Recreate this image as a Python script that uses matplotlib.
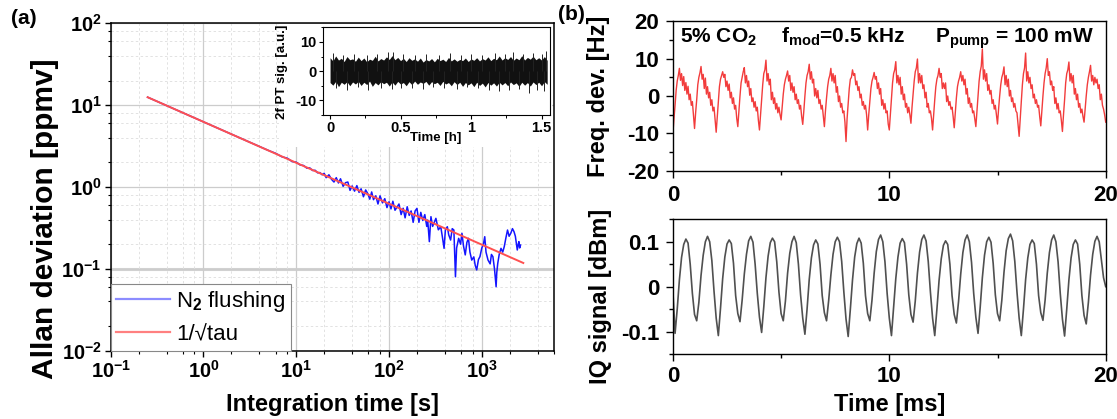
import numpy as np
import matplotlib
matplotlib.use('Agg')
import matplotlib.pyplot as plt
from matplotlib.patches import Rectangle
from matplotlib.ticker import LogLocator, MultipleLocator, NullFormatter

plt.rcParams['font.family'] = ['Liberation Sans', 'DejaVu Sans']
plt.rcParams['font.weight'] = 'bold'
plt.rcParams['mathtext.fontset'] = 'custom'
plt.rcParams['mathtext.rm'] = 'Liberation Sans:bold'
plt.rcParams['mathtext.bf'] = 'Liberation Sans:bold'
plt.rcParams['mathtext.it'] = 'Liberation Sans:bold:italic'
plt.rcParams['mathtext.sf'] = 'Liberation Sans'
plt.rcParams['mathtext.default'] = 'rm'
plt.rcParams['axes.unicode_minus'] = False

# ---- (a) Allan deviation, N2 flushing ----
tau_n2 = [0.25, 0.5, 1.0, 2.0, 3.0, 4.0, 5.0, 6.0, 7.0, 8.0, 9.0, 10, 11, 12, 13, 14,
          15, 16, 17, 18, 19,
          20, 21, 22.5, 24, 25.5, 27, 28.5, 30, 32, 34, 36, 38, 40, 42.5, 45, 47.5,
          50, 53, 56, 59, 62, 65, 68, 72, 76, 80, 85, 90, 95,
          100, 105, 110, 116, 122, 128, 135, 142, 149, 157, 165, 173, 182, 191, 200,
          210, 220, 231, 243, 255, 261, 272, 283, 295,
          320, 340, 361, 375, 392, 405, 425, 440, 461, 480,
          500, 510, 520, 535, 563, 590, 611, 635, 663, 690, 718, 745, 779, 820, 850,
          881, 920, 955, 1000, 1040, 1076, 1110, 1167, 1230, 1270, 1317, 1370, 1426,
          1450, 1486, 1540, 1610, 1680, 1746, 1820, 1893, 1970, 2052, 2140, 2225,
          2300, 2412, 2470, 2512, 2560, 2615]
adev_n2 = [12.5, 8.85, 6.25, 4.42, 3.60, 3.13, 2.80, 2.58, 2.34, 2.25, 2.05, 2.01, 1.86,
           1.83, 1.70, 1.71, 1.59, 1.60, 1.49, 1.50, 1.41,
           1.47, 1.30, 1.41, 1.24, 1.15, 1.30, 1.12, 1.26, 1.02, 1.13, 1.15, 0.91, 1.03,
           0.89, 1.04, 0.86,
           0.95, 0.76, 0.92, 0.83, 0.71, 0.87, 0.70, 0.78, 0.62, 0.78, 0.64, 0.72, 0.56,
           0.66, 0.54, 0.67, 0.52, 0.57, 0.62, 0.46, 0.55, 0.42, 0.574, 0.45, 0.51,
           0.37, 0.51, 0.548, 0.37, 0.49, 0.39, 0.46, 0.33, 0.395, 0.215, 0.434, 0.33,
           0.414, 0.30, 0.327, 0.25, 0.178, 0.30, 0.327, 0.26, 0.225, 0.31,
           0.298, 0.16, 0.080, 0.18, 0.236, 0.20, 0.272, 0.19, 0.148, 0.21, 0.236, 0.16,
           0.128, 0.14, 0.11, 0.097, 0.13, 0.141, 0.18, 0.20, 0.247, 0.16, 0.128, 0.115,
           0.15, 0.141, 0.10, 0.0605, 0.09, 0.117, 0.15, 0.178, 0.16, 0.187, 0.24, 0.298,
           0.25, 0.272, 0.31, 0.284, 0.25, 0.170, 0.20, 0.215, 0.18, 0.195]
tau_fit = [0.25, 2800]
adev_fit = [12.5, 0.118]

# ---- inset: 2f PT signal over 1.55 h ----
band_hi = [4.6, 3.5, 5.2, 3.8, 4.4, 3.3, 5.0, 3.9, 4.2, 3.4,
           4.8, 3.6, 4.5, 3.2, 4.1, 3.7, 5.1, 3.5, 4.3, 3.8,
           4.9, 4.0, 5.3, 3.9, 4.7, 3.6, 4.4, 3.3, 4.6, 3.7,
           4.2, 3.4, 4.5, 3.1, 4.0, 3.5, 4.3, 3.2, 4.4, 3.6,
           4.1, 3.3, 4.7, 3.5, 4.2, 3.4, 4.0, 3.6, 4.5, 3.3,
           4.2, 3.7, 4.6, 3.5, 4.3, 3.8, 4.9, 3.6, 4.4, 3.9,
           5.2, 3.8, 4.6, 4.0, 5.0, 3.7, 4.5, 3.9, 5.3, 3.8,
           4.7, 4.1, 5.1, 3.9, 4.6, 3.8, 5.0, 3.7]
band_lo = [-3.9, -4.8, -3.5, -5.3, -3.8, -4.5, -3.6, -5.0, -3.7, -4.4,
           -3.5, -4.9, -3.8, -4.6, -3.4, -5.2, -3.9, -4.7, -3.6, -4.3,
           -3.8, -5.1, -3.7, -4.8, -3.5, -4.4, -3.9, -5.0, -3.6, -4.6,
           -3.4, -4.5, -3.7, -4.2, -3.5, -4.8, -3.6, -4.3, -3.8, -4.9,
           -3.5, -4.4, -3.9, -5.0, -3.6, -4.6, -3.8, -5.2, -3.9, -4.7,
           -4.0, -5.3, -3.8, -4.9, -4.1, -5.4, -3.9, -4.8, -4.0, -5.1,
           -3.8, -4.7, -3.9, -5.0, -3.7, -4.6, -4.0, -5.2, -3.8, -4.8,
           -3.9, -5.1, -3.7, -4.6, -3.8, -5.0, -3.6, -4.5]
spk_up_t = [0.02, 0.09, 0.17, 0.26, 0.33, 0.41, 0.45, 0.52, 0.6, 0.68, 0.77, 0.85, 0.93,
            1.0, 1.08, 1.17, 1.24, 1.3, 1.37, 1.44, 1.5, 1.53]
spk_up_v = [6.2, 5.6, 5.9, 5.5, 6.0, 6.4, 6.6, 5.7, 5.4, 5.8, 5.5, 6.1, 5.6, 5.9, 5.4,
            6.3, 5.8, 6.7, 6.0, 6.2, 5.7, 6.8]
spk_dn_t = [0.04, 0.12, 0.2, 0.27, 0.36, 0.44, 0.5, 0.58, 0.66, 0.73, 0.81, 0.9, 0.97,
            1.05, 1.13, 1.2, 1.27, 1.34, 1.41, 1.47, 1.52]
spk_dn_v = [-5.8, -6.3, -5.5, -6.6, -5.9, -6.1, -5.6, -5.7, -6.0, -5.4, -5.9, -6.2, -5.5,
            -5.8, -6.4, -6.9, -6.6, -6.0, -7.5, -6.3, -6.8]

# ---- (b) frequency deviation, 0.05 ms steps (one row per modulation period) ----
freq_dev = [
    -10, -6, -2.5, 1.5, 4.0, 5.5, 7.4, 4.2, 6.0, 2.8, 5.2, 1.5, 3.6, 0.5, 2.6, -1.0, 0.5, -2.5, -1.5, -5.0,
    -8.7, -4.5, -1.0, 3.0, 5.0, 6.2, 7.9, 4.5, 5.8, 2.0, 4.8, 0.5, 2.5, -0.5, 1.0, -2.5, -1.0, -4.0, -3.0, -6.5,
    -9.7, -5.5, -1.5, 2.5, 4.5, 5.5, 6.5, 5.0, 5.8, 2.5, 4.0, 1.5, 3.2, -0.5, 1.0, -2.0, -0.5, -3.5, -2.5, -6.0,
    -8.2, -4.0, 0.0, 3.5, 5.0, 6.5, 7.6, 3.5, 5.5, 2.5, 4.0, 0.2, 2.0, -1.5, -0.5, -3.0, -1.5, -4.0, -3.0, -6.5,
    -9.1, -5.0, -1.0, 3.0, 6.0, 7.0, 9.6, 4.0, 6.0, 3.0, 4.5, -1.0, 1.0, -2.0, -0.5, -3.5, -2.0, -4.5, -3.0, -5.0,
    -6.4, -3.0, 0.5, 3.0, 4.5, 5.5, 6.7, 4.0, 5.5, 1.5, 3.5, 1.0, 2.5, -1.0, 0.5, -2.0, -1.0, -3.5, -2.5, -5.5,
    -7.6, -4.0, 0.0, 3.5, 5.5, 6.5, 8.5, 4.5, 6.5, 3.5, 4.5, 0.0, 2.0, -0.5, 1.5, -2.0, -1.0, -3.5, -2.5, -5.5,
    -8.2, -4.0, -0.5, 2.5, 4.5, 5.5, 7.4, 4.0, 6.0, 3.5, 5.5, 1.0, 2.5, -1.5, 0.0, -3.0, -2.0, -4.5, -4.0, -7.0,
    -12.2, -6.0, -2.0, 2.0, 4.5, 5.0, 7.0, 5.5, 6.0, 3.0, 4.0, 1.5, 2.5, -0.5, 0.5, -2.5, -1.5, -3.5, -2.5, -5.0,
    -9.1, -5.0, -1.5, 2.0, 4.0, 5.0, 6.3, 4.5, 5.2, 2.0, 3.5, 0.5, 2.0, -2.5, -1.0, -3.5, -2.0, -4.5, -4.0, -7.5,
    -9.1, -5.0, -1.0, 3.5, 6.0, 7.0, 9.2, 3.5, 5.5, 3.0, 5.0, 0.5, 2.5, -1.0, 0.5, -3.0, -2.0, -4.5, -3.0, -5.0,
    -7.3, -3.0, 0.5, 4.0, 6.5, 7.5, 9.9, 3.5, 6.0, 3.5, 5.5, 2.0, 3.0, -0.5, 1.0, -3.0, -2.0, -4.5, -4.0, -6.0,
    -9.1, -5.0, -1.0, 2.5, 4.5, 5.5, 7.4, 5.0, 6.0, 2.0, 3.5, 2.0, 3.5, -1.5, 0.0, -2.5, -1.5, -3.5, -3.0, -5.5,
    -8.5, -4.5, -0.5, 2.5, 4.0, 5.0, 6.5, 4.0, 5.5, 3.0, 4.5, 0.5, 2.0, -2.0, -0.5, -3.0, -2.0, -4.5, -4.0, -6.0,
    -8.2, -4.0, 0.5, 4.0, 6.5, 8.0, 12.6, 4.5, 7.0, 4.0, 6.0, 1.5, 3.0, 0.5, 1.5, -2.0, -1.0, -3.5, -2.5, -5.0,
    -7.5, -3.5, 0.0, 3.0, 5.0, 6.0, 7.8, 3.0, 5.5, 2.5, 4.5, 0.0, 1.5, -1.5, -0.5, -3.0, -2.0, -4.0, -4.5, -7.5,
    -10.8, -6.0, -1.5, 3.0, 6.0, 7.5, 11.5, 4.0, 6.5, 3.5, 5.0, 2.0, 3.0, -0.5, 0.5, -2.0, -1.0, -3.0, -2.5, -5.5,
    -8.0, -4.0, 0.0, 3.5, 6.0, 7.5, 10.0, 5.5, 6.5, 3.0, 4.0, 1.5, 2.5, -2.0, -0.5, -3.5, -2.0, -4.5, -4.0, -6.5,
    -9.5, -5.0, -1.0, 3.5, 6.0, 7.0, 9.1, 4.0, 6.0, 3.5, 5.5, 0.5, 2.0, -1.0, 0.5, -3.0, -2.0, -4.5, -3.5, -5.5,
    -7.0, -3.5, 0.0, 3.0, 5.0, 6.5, 8.2, 4.0, 5.5, 3.0, 5.0, 3.5, 4.5, 2.0, 3.0, -1.0, 0.5, -2.5, -3.5, -5.0,
    -7.0]

# ---- (b) IQ signal, 0.1 ms steps ----
iq_sig = [
    -0.01, -0.104, -0.05, 0.015, 0.065, 0.094, 0.106, 0.097, 0.05, -0.015,
    -0.062, -0.076, -0.035, 0.025, 0.07, 0.1, 0.112, 0.1, 0.058, -0.01,
    -0.07, -0.109, -0.048, 0.018, 0.066, 0.095, 0.104, 0.096, 0.052, -0.02,
    -0.06, -0.078, -0.03, 0.028, 0.072, 0.102, 0.112, 0.099, 0.05, -0.015,
    -0.068, -0.102, -0.045, 0.02, 0.068, 0.098, 0.108, 0.1, 0.055, -0.012,
    -0.06, -0.076, -0.032, 0.03, 0.074, 0.1, 0.112, 0.098, 0.05, -0.018,
    -0.07, -0.106, -0.05, 0.016, 0.064, 0.093, 0.104, 0.095, 0.05, -0.02,
    -0.058, -0.076, -0.03, 0.026, 0.072, 0.1, 0.110, 0.1, 0.056, -0.012,
    -0.072, -0.111, -0.05, 0.015, 0.066, 0.096, 0.108, 0.097, 0.052, -0.02,
    -0.06, -0.076, -0.03, 0.03, 0.078, 0.105, 0.115, 0.1, 0.055, -0.015,
    -0.07, -0.109, -0.047, 0.018, 0.066, 0.097, 0.107, 0.098, 0.05, -0.018,
    -0.062, -0.079, -0.032, 0.03, 0.077, 0.105, 0.115, 0.102, 0.056, -0.012,
    -0.07, -0.109, -0.05, 0.014, 0.062, 0.092, 0.102, 0.094, 0.05, -0.02,
    -0.062, -0.081, -0.033, 0.028, 0.076, 0.104, 0.115, 0.1, 0.054, -0.015,
    -0.068, -0.104, -0.046, 0.02, 0.07, 0.1, 0.110, 0.099, 0.052, -0.018,
    -0.06, -0.076, -0.03, 0.032, 0.08, 0.107, 0.117, 0.102, 0.056, -0.012,
    -0.07, -0.109, -0.05, 0.016, 0.064, 0.094, 0.104, 0.096, 0.05, -0.02,
    -0.058, -0.075, -0.03, 0.03, 0.076, 0.104, 0.115, 0.1, 0.055, -0.015,
    -0.072, -0.110, -0.05, 0.015, 0.064, 0.094, 0.104, 0.095, 0.05, -0.02,
    -0.064, -0.083, -0.035, 0.026, 0.072, 0.101, 0.112, 0.1, 0.06, 0.02,
    0.0]

W, H = 1117, 419


def box(l, t, r, b):
    # pixel box (top-left origin) -> figure fraction
    return [l / W, 1 - b / H, (r - l) / W, (b - t) / H]


def px(x, y):
    return x / W, 1 - y / H


fig = plt.figure(figsize=(W / 100, H / 100), dpi=100)

# ---------------- panel (a) ----------------
ax = fig.add_axes(box(110.7, 23.3, 554, 350.7))
ax.loglog(tau_n2, adev_n2, color='#1414ff', lw=1.1, label=r'N$_\mathsf{2}$ flushing')
ax.loglog(tau_fit, adev_fit, color='#ff5050', lw=1.4, label='1/\u221atau', zorder=3)
ax.set_xlim(0.1, 6000)
ax.set_ylim(0.01, 100)
ax.set_xticks([0.1, 1, 10, 100, 1000],
              [r'$10^{-1}$', r'$10^{0}$', r'$10^{1}$', r'$10^{2}$', r'$10^{3}$'])
ax.set_yticks([0.01, 0.1, 1, 10, 100],
              [r'$10^{-2}$', r'$10^{-1}$', r'$10^{0}$', r'$10^{1}$', r'$10^{2}$'])
ax.xaxis.set_minor_locator(LogLocator(base=10, subs=(2, 4, 6, 8), numticks=20))
ax.yaxis.set_minor_locator(LogLocator(base=10, subs=(2, 4, 6, 8), numticks=20))
ax.xaxis.set_minor_formatter(NullFormatter())
ax.yaxis.set_minor_formatter(NullFormatter())
ax.grid(which='major', color='#cccccc', lw=0.9)
ax.grid(which='minor', color='#e2e2e2', lw=0.7, ls=(0, (2.5, 2.5)))
ax.axhline(0.1, color='#d2d2d2', lw=2.2, zorder=0.8)
ax.tick_params(which='major', direction='out', length=4.5, width=1, labelsize=14.5, pad=2)
ax.tick_params(which='minor', direction='out', length=2.5, width=0.8)
for s in ax.spines.values():
    s.set_linewidth(1.1)

leg = ax.legend(loc='lower left', bbox_to_anchor=(0, 0), borderaxespad=0,
                prop={'weight': 'normal', 'size': 16}, handlelength=2.4,
                handletextpad=0.3, labelspacing=0.45, borderpad=0.25,
                fancybox=False, edgecolor='#888888', framealpha=1)
leg.get_frame().set_linewidth(0.8)
leg.get_lines()[0].set_color('#8c8cff')
leg.get_lines()[1].set_color('#ff8080')
for ln in leg.get_lines():
    ln.set_linewidth(1.6)

# white patch behind the inset
fig.add_artist(Rectangle((279 / W, 1 - 147 / H), (552 - 279) / W, (147 - 24.5) / H,
                         transform=fig.transFigure, facecolor='white',
                         edgecolor='none', zorder=1))

# ---------------- inset ----------------
ins = fig.add_axes(box(323, 27.3, 550, 115))
ins.set_zorder(2)
t_band = np.linspace(0, 1.54, len(band_hi))
ins.fill_between(t_band, band_lo, band_hi, color='#111111', lw=0)
ins.vlines(spk_up_t, 0, spk_up_v, color='#222222', lw=0.7)
ins.vlines(spk_dn_t, spk_dn_v, 0, color='#222222', lw=0.7)
ins.set_xlim(-0.05, 1.56)
ins.set_ylim(-15, 15)
ins.set_xticks([0, 0.5, 1, 1.5], ['0', '0.5', '1', '1.5'])
ins.set_yticks([-10, 0, 10])
ins.xaxis.set_minor_locator(MultipleLocator(0.25))
ins.yaxis.set_minor_locator(MultipleLocator(5))
ins.tick_params(which='major', direction='out', length=3, width=0.8, labelsize=10.5, pad=1.5)
ins.tick_params(which='minor', direction='out', length=1.8, width=0.7)
for s in ins.spines.values():
    s.set_linewidth(0.8)
fig.text(*px(282, 72), '2f PT sig. [a.u.]', rotation=90, fontsize=9.5,
         ha='center', va='center')
fig.text(*px(436, 138), 'Time [h]', fontsize=9.5, ha='center', va='center')

fig.text(*px(24, 19), '(a)', fontsize=15, ha='center', va='center')
fig.text(*px(44.6, 219), 'Allan deviation [ppmv]', rotation=90, fontsize=21.5,
         ha='center', va='center')
fig.text(*px(332, 404), 'Integration time [s]', fontsize=17, ha='center', va='center')

# ---------------- panel (b) ----------------
t_fd = np.linspace(0, 20, len(freq_dev))
axf = fig.add_axes(box(672.9, 21.3, 1105.7, 170.7))
axf.plot(t_fd, freq_dev, color='#f23c3c', lw=1)
axf.set_xlim(0, 20)
axf.set_ylim(-20, 20)
axf.set_xticks([0, 10, 20])
axf.set_yticks([-20, -10, 0, 10, 20])

t_iq = np.linspace(0, 20, len(iq_sig))
axq = fig.add_axes(box(672.9, 219.3, 1105.7, 354))
axq.plot(t_iq, iq_sig, color='#505050', lw=1.2)
axq.set_xlim(0, 20)
axq.set_ylim(-0.15, 0.15)
axq.set_xticks([0, 10, 20])
axq.set_yticks([-0.1, 0, 0.1], ['-0.1', '0', '0.1'])

for a, ymin in ((axf, 5), (axq, 0.05)):
    a.xaxis.set_minor_locator(MultipleLocator(5))
    a.yaxis.set_minor_locator(MultipleLocator(ymin))
    a.tick_params(which='major', direction='out', length=5, width=1, labelsize=16, pad=5)
    a.tick_params(which='minor', direction='out', length=3, width=1)
    for s in a.spines.values():
        s.set_linewidth(1)
axq.tick_params(axis='x', which='major', pad=3.5)

fig.text(*px(680, 43), r'5% CO$_2$', fontsize=15, ha='left', va='baseline')
fig.text(*px(781, 43), r'f$_{mod}$=0.5 kHz', fontsize=15, ha='left', va='baseline')
fig.text(*px(935, 43), r'P$_{pump}$ = 100 mW', fontsize=15, ha='left', va='baseline')

fig.text(*px(571, 15), '(b)', fontsize=15, ha='center', va='center')
fig.text(*px(599, 96), 'Freq. dev. [Hz]', rotation=90, fontsize=17, ha='center', va='center')
fig.text(*px(600, 296), 'IQ signal [dBm]', rotation=90, fontsize=17, ha='center', va='center')
fig.text(*px(890, 404), 'Time [ms]', fontsize=17, ha='center', va='center')

fig.savefig('out.png', dpi=100)
